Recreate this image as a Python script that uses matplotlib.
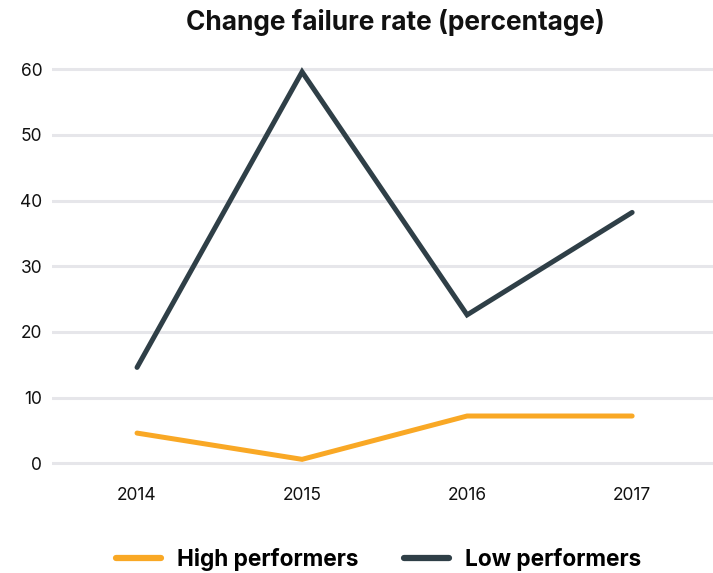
import matplotlib
matplotlib.use("Agg")
import matplotlib.pyplot as plt
from matplotlib.lines import Line2D

years = ["2014", "2015", "2016", "2017"]
high_performers = [4.6, 0.6, 7.2, 7.2]
low_performers = [14.6, 59.6, 22.6, 38.2]
y_ticks = [0, 10, 20, 30, 40, 50, 60]

plt.rcParams['font.family'] = ['Inter', 'DejaVu Sans']

fig = plt.figure(figsize=(7.13, 5.73), dpi=100)
ax = fig.add_axes([0.073, 0.180, 0.927, 0.7106])

x = list(range(len(years)))
c_high = "#F9A825"
c_low = "#2F3F47"
ax.plot(x, high_performers, color=c_high, lw=3.6, solid_capstyle="round", solid_joinstyle="miter", zorder=3)
ax.plot(x, low_performers, color=c_low, lw=3.6, solid_capstyle="round", solid_joinstyle="miter", zorder=3)

ax.set_xlim(-0.515, 3.49)
ax.set_ylim(-1, 61)
ax.set_xticks(x)
ax.set_xticklabels(years)
ax.set_yticks(y_ticks)
ax.grid(axis="y", color="#E6E6EA", lw=2.2)
ax.set_axisbelow(True)
for s in ax.spines.values():
    s.set_visible(False)
ax.tick_params(axis="both", length=0, labelsize=12.5, colors="#111111")
ax.tick_params(axis="y", pad=7)
ax.tick_params(axis="x", pad=12)

fig.text(0.554, 0.960, "Change failure rate (percentage)", ha="center", va="center",
         fontsize=18.9, fontweight="bold", color="#111111")

handles = [Line2D([0], [0], color=c_high, lw=4.5, solid_capstyle="round"),
           Line2D([0], [0], color=c_low, lw=4.5, solid_capstyle="round")]
fig.legend(handles, ["High performers", "Low performers"], loc="center",
           bbox_to_anchor=(0.531, 0.024), ncol=2, frameon=False,
           prop={"size": 16.3, "weight": "bold"}, handlelength=2.0,
           handletextpad=0.7, columnspacing=2.0)

fig.savefig("out.png", dpi=100, facecolor="white")
